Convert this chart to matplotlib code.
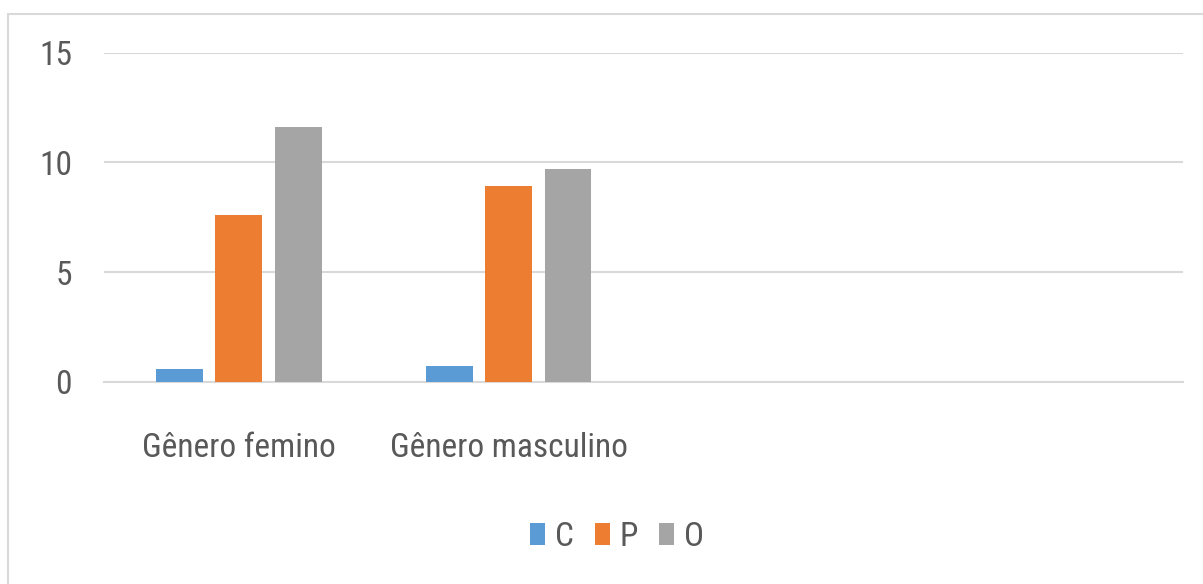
import matplotlib
matplotlib.use("Agg")
import matplotlib.pyplot as plt
from matplotlib.patches import Rectangle, Patch
from matplotlib import font_manager
import numpy as np

categories = ["Gênero femino", "Gênero masculino", "", ""]
series_names = ["C", "P", "O"]
values_C = [0.6, 0.75]
values_P = [7.6, 8.9]
values_O = [11.6, 9.7]
colors = ["#5b9bd5", "#ed7d31", "#a5a5a5"]
yticks = [0, 5, 10, 15]

names = {f.name for f in font_manager.fontManager.ttflist}
fam = ['Roboto Condensed', 'Liberation Sans Narrow', 'Roboto', 'DejaVu Sans']
fam = [f for f in fam if f in names] or ['DejaVu Sans']
plt.rcParams['font.family'] = fam
text_color = "#595959"

fig = plt.figure(figsize=(12.03, 5.84), dpi=100)
W, H = 1203, 584
fig.patches.append(Rectangle((8 / W, -0.01), 1.1, 1 - 14 / H + 0.01, transform=fig.transFigure,
                             fill=False, edgecolor="#d9d9d9", linewidth=1.5))

ax = fig.add_axes([104 / W, 1 - 382 / H, (1183 - 104) / W, (382 - 52.5) / H])
x = np.arange(len(categories))
step = 0.22
bw = 0.174
for j, (vals, col) in enumerate(zip([values_C, values_P, values_O], colors)):
    xs = x[:len(vals)] + (j - 1) * step
    ax.bar(xs, vals, width=bw, color=col, zorder=3)

ax.set_xlim(-0.5, len(categories) - 0.5)
ax.set_ylim(0, 15)
ax.set_yticks(yticks)
ax.set_yticklabels([str(t) for t in yticks])
ax.set_xticks(x)
ax.set_xticklabels(categories)
ax.tick_params(axis='y', length=0, pad=23, labelsize=24, labelcolor=text_color)
ax.tick_params(axis='x', length=0, pad=36, labelsize=24, labelcolor=text_color)
ax.grid(axis='y', color="#d9d9d9", linewidth=1.5, zorder=0)
for s in ["top", "right", "left"]:
    ax.spines[s].set_visible(False)
ax.spines["bottom"].set_color("#d9d9d9")
ax.spines["bottom"].set_linewidth(1.5)

handles = [Patch(facecolor=c, edgecolor='none', label=n) for c, n in zip(colors, series_names)]
leg = fig.legend(handles=handles, loc="center", bbox_to_anchor=(617 / W, 1 - 537 / H), ncol=3,
                 frameon=False, fontsize=24, handlelength=0.45, handleheight=0.65,
                 handletextpad=0.3, columnspacing=0.62)
for t in leg.get_texts():
    t.set_color(text_color)

fig.savefig("out.png", dpi=100)
